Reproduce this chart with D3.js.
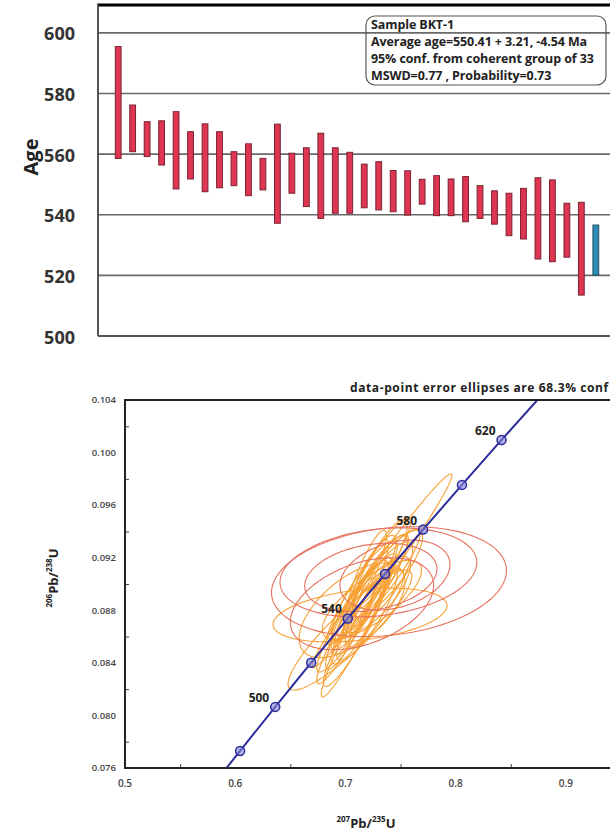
<!DOCTYPE html>
<html>
<head>
<meta charset="utf-8">
<script src="https://cdn.jsdelivr.net/npm/d3@7"></script>
<style>
  body { margin: 0; background: #fff; }
  svg { display: block; font-family: "Open Sans", sans-serif; }
</style>
</head>
<body>
<svg id="chart" width="610" height="832"></svg>
<script>
// weighted average plot: 2-sigma age bars (Ma)
const ageTop = [595.5, 576.2, 570.7, 571.0, 574.0, 567.4, 570.0, 567.4, 560.8, 563.4, 558.6,
    569.9, 560.3, 562.1, 566.9, 562.1, 560.6, 556.7, 557.5, 554.6, 554.5, 551.7,
    552.9, 551.8, 552.6, 549.6, 547.9, 547.1, 548.7, 552.2, 551.5, 543.8, 544.1, 536.6];
const ageBottom = [558.6, 560.8, 559.2, 556.4, 548.5, 551.8, 547.6, 548.9, 549.6, 546.3, 548.2,
    537.2, 547.1, 542.7, 538.8, 540.5, 540.5, 542.3, 541.6, 541.0, 539.9, 543.5,
    539.7, 539.7, 537.7, 538.8, 536.9, 533.1, 532.0, 525.4, 524.5, 526.0, 513.5, 520.1];
const rejected = [false, false, false, false, false, false, false, false, false, false, false,
    false, false, false, false, false, false, false, false, false, false, false,
    false, false, false, false, false, false, false, false, false, false, false, true];
const ageTicks = [500, 520, 540, 560, 580, 600];
const infoLines = ["Sample BKT-1", "Average age=550.41 + 3.21, -4.54 Ma",
    "95% conf. from coherent group of 33", "MSWD=0.77 , Probability=0.73"];

// concordia diagram
const concAges = [480, 500, 520, 540, 560, 580, 600, 620];
const concX = [0.6044, 0.6363, 0.6689, 0.7021, 0.7359, 0.7704, 0.8057, 0.8416];
const concY = [0.07730, 0.08065, 0.08401, 0.08738, 0.09076, 0.09414, 0.09754, 0.10096];
const curveX = [0.5921, 0.6044, 0.6363, 0.6689, 0.7021, 0.7359, 0.7704, 0.8057, 0.8416, 0.8741];
const curveY = [0.0760, 0.07730, 0.08065, 0.08401, 0.08738, 0.09076, 0.09414, 0.09754, 0.10096, 0.1040];
const labelAges = [500, 540, 580, 620];
const xTicks = [0.5, 0.6, 0.7, 0.8, 0.9];
const yTicks = [0.076, 0.080, 0.084, 0.088, 0.092, 0.096, 0.100, 0.104];

// error ellipses: 207/235, 206/238, half-extents, rho
const ellX  = [0.7331, 0.7132, 0.7041, 0.7150, 0.7200, 0.7250, 0.7180, 0.7300, 0.7100, 0.7220,
    0.7280, 0.7120, 0.7350, 0.7050, 0.7240, 0.7170, 0.7260, 0.7080, 0.7320, 0.7200,
    0.7140, 0.7290, 0.7000, 0.7380, 0.7210, 0.7060, 0.7250, 0.7110, 0.7190,
    0.7395, 0.7299, 0.7449, 0.7150, 0.7230];
const ellY  = [0.0910, 0.08764, 0.0865, 0.0885, 0.0890, 0.0898, 0.0880, 0.0905, 0.0878, 0.0893,
    0.0900, 0.0872, 0.0902, 0.0870, 0.0888, 0.0895, 0.0910, 0.0862, 0.0915, 0.0875,
    0.0890, 0.0892, 0.0862, 0.0908, 0.0902, 0.0880, 0.0882, 0.0866, 0.0908,
    0.09018, 0.09088, 0.09068, 0.0885, 0.0905];
const ellSx = [0.0635, 0.0789, 0.0562, 0.028, 0.022, 0.032, 0.018, 0.026, 0.036, 0.017,
    0.040, 0.020, 0.026, 0.023, 0.045, 0.030, 0.020, 0.028, 0.024, 0.033,
    0.025, 0.030, 0.026, 0.032, 0.038, 0.048, 0.022, 0.033, 0.018,
    0.1066, 0.0893, 0.0499, 0.0650, 0.0600];
const ellSy = [0.00738, 0.00205, 0.00457, 0.0035, 0.0030, 0.0040, 0.0028, 0.0032, 0.0045, 0.0025,
    0.0042, 0.0030, 0.0030, 0.0035, 0.0030, 0.0038, 0.0027, 0.0040, 0.0034, 0.0036,
    0.0044, 0.0029, 0.0038, 0.0033, 0.0048, 0.0036, 0.0031, 0.0052, 0.0033,
    0.00418, 0.00339, 0.00266, 0.0035, 0.0026];
const ellRho = [0.985, 0.35, 0.90, 0.88, 0.85, 0.90, 0.80, 0.86, 0.93, 0.78,
    0.92, 0.84, 0.80, 0.90, 0.75, 0.88, 0.82, 0.92, 0.86, 0.89,
    0.92, 0.78, 0.93, 0.84, 0.94, 0.60, 0.84, 0.96, 0.88,
    0.20, 0.22, 0.30, 0.40, 0.25];
const ellRed = [false, false, false, false, false, false, false, false, false, false,
    false, false, false, false, false, false, false, false, false, false,
    false, false, false, false, false, false, false, false, false,
    true, true, true, true, true];

const svg = d3.select("#chart");

// ---------- top panel ----------
const panelA = {left: 98, right: 610, top: 5, bottom: 336};

const yAge = d3.scaleLinear()
    .domain([500, 609.2])
    .range([panelA.bottom, panelA.top]);

const xBar = d3.scaleBand()
    .domain(d3.range(ageTop.length))
    .range([106.6, 607.4])
    .padding(0.6);

const gTop = svg.append("g");

gTop.append("g")
    .selectAll("line")
    .data(ageTicks.filter(d => d > 500))
    .join("line")
    .attr("x1", panelA.left)
    .attr("x2", panelA.right)
    .attr("y1", d => yAge(d))
    .attr("y2", d => yAge(d))
    .attr("stroke", "#6a6a6a")
    .attr("stroke-width", 1.6);

gTop.append("g")
    .selectAll("rect")
    .data(ageTop.map((t, i) => ({i, t, b: ageBottom[i], rej: rejected[i]})))
    .join("rect")
    .attr("x", d => xBar(d.i))
    .attr("width", xBar.bandwidth())
    .attr("y", d => yAge(d.t))
    .attr("height", d => yAge(d.b) - yAge(d.t))
    .attr("fill", d => d.rej ? "#2b8db5" : "#dd3552")
    .attr("stroke", d => d.rej ? "#1f4d63" : "#7a2232")
    .attr("stroke-width", 1);

// frame
gTop.append("line")
    .attr("x1", panelA.left).attr("x2", panelA.right)
    .attr("y1", panelA.top).attr("y2", panelA.top)
    .attr("stroke", "#000").attr("stroke-width", 3);
gTop.append("line")
    .attr("x1", panelA.left).attr("x2", panelA.left)
    .attr("y1", panelA.top - 1.5).attr("y2", panelA.bottom)
    .attr("stroke", "#444").attr("stroke-width", 1.8);
gTop.append("line")
    .attr("x1", panelA.left).attr("x2", panelA.right)
    .attr("y1", panelA.bottom).attr("y2", panelA.bottom)
    .attr("stroke", "#555").attr("stroke-width", 1.8);

gTop.append("g")
    .selectAll("text")
    .data(ageTicks)
    .join("text")
    .attr("x", 75)
    .attr("y", d => yAge(d))
    .attr("dy", "0.42em")
    .attr("text-anchor", "end")
    .attr("font-size", 18)
    .attr("font-weight", 700)
    .attr("fill", "#333")
    .text(d => d);

gTop.append("text")
    .attr("transform", "translate(38,157) rotate(-90)")
    .attr("text-anchor", "middle")
    .attr("font-size", 20)
    .attr("font-weight", 700)
    .attr("fill", "#222")
    .text("Age");

// info box
gTop.append("rect")
    .attr("x", 366).attr("y", 16)
    .attr("width", 240).attr("height", 69)
    .attr("rx", 9)
    .attr("fill", "none")
    .attr("stroke", "#555")
    .attr("stroke-width", 1.2);

gTop.append("g")
    .selectAll("text")
    .data(infoLines)
    .join("text")
    .attr("x", 371)
    .attr("y", (d, i) => 29 + i * 17)
    .attr("font-size", 12.5)
    .attr("font-weight", 700)
    .attr("letter-spacing", -0.1)
    .attr("fill", "#222")
    .text(d => d);

// ---------- bottom panel ----------
const panelB = {left: 125, right: 610, top: 400, bottom: 768};

const x = d3.scaleLinear()
    .domain([0.5, 0.94])
    .range([panelB.left, panelB.right]);

const y = d3.scaleLinear()
    .domain([0.076, 0.104])
    .range([panelB.bottom, panelB.top]);

svg.append("defs").append("clipPath")
    .attr("id", "plotClip")
    .append("rect")
    .attr("x", panelB.left).attr("y", panelB.top)
    .attr("width", panelB.right - panelB.left)
    .attr("height", panelB.bottom - panelB.top);

const gBot = svg.append("g");
const plot = gBot.append("g").attr("clip-path", "url(#plotClip)");

// ellipses
const ellipseLine = d3.line().curve(d3.curveLinearClosed);
const angles = d3.range(0, 2 * Math.PI, Math.PI / 60);
const ellipses = ellX.map((cx, i) => ({
    cx, cy: ellY[i], sx: ellSx[i], sy: ellSy[i], rho: ellRho[i], red: ellRed[i]
}));

plot.append("g")
    .selectAll("path")
    .data(ellipses)
    .join("path")
    .attr("d", e => ellipseLine(angles.map(t => [
        x(e.cx + e.sx * Math.cos(t)),
        y(e.cy + e.sy * (e.rho * Math.cos(t) + Math.sqrt(1 - e.rho * e.rho) * Math.sin(t)))
    ])))
    .attr("fill", "none")
    .attr("stroke", e => e.red ? "#e6705f" : "#f7a033")
    .attr("stroke-width", 1.1);

// concordia
plot.append("path")
    .datum(curveX.map((v, i) => [v, curveY[i]]))
    .attr("d", d3.line().x(d => x(d[0])).y(d => y(d[1])).curve(d3.curveMonotoneX))
    .attr("fill", "none")
    .attr("stroke", "#2c2c9c")
    .attr("stroke-width", 2);

plot.append("g")
    .selectAll("circle")
    .data(concAges.map((a, i) => ({a, cx: concX[i], cy: concY[i]})))
    .join("circle")
    .attr("cx", d => x(d.cx))
    .attr("cy", d => y(d.cy))
    .attr("r", 4.5)
    .attr("fill", "#8080d8")
    .attr("fill-opacity", 0.6)
    .attr("stroke", "#2c2c9c")
    .attr("stroke-width", 1.5);

gBot.append("g")
    .selectAll("text")
    .data(concAges.map((a, i) => ({a, cx: concX[i], cy: concY[i]})).filter(d => labelAges.includes(d.a)))
    .join("text")
    .attr("x", d => x(d.cx) - 6)
    .attr("y", d => y(d.cy) - 5)
    .attr("text-anchor", "end")
    .attr("font-size", 12)
    .attr("font-weight", 700)
    .attr("fill", "#222")
    .text(d => d.a);

// axes
gBot.append("g")
    .attr("transform", `translate(0,${panelB.bottom})`)
    .call(d3.axisTop(x).tickValues(d3.range(0.55, 0.94, 0.1)).tickSize(4).tickFormat(""))
    .call(g => g.select(".domain").remove())
    .call(g => g.selectAll("line").attr("stroke", "#444"));

gBot.append("g")
    .attr("transform", `translate(${panelB.left},0)`)
    .call(d3.axisRight(y).tickValues(d3.range(0.078, 0.1041, 0.004)).tickSize(4).tickFormat(""))
    .call(g => g.select(".domain").remove())
    .call(g => g.selectAll("line").attr("stroke", "#444"));

gBot.append("line")
    .attr("x1", panelB.left).attr("x2", panelB.right)
    .attr("y1", panelB.top).attr("y2", panelB.top)
    .attr("stroke", "#222").attr("stroke-width", 2.2);
gBot.append("line")
    .attr("x1", panelB.left).attr("x2", panelB.left)
    .attr("y1", panelB.top - 1).attr("y2", panelB.bottom + 1)
    .attr("stroke", "#222").attr("stroke-width", 2);
gBot.append("line")
    .attr("x1", panelB.left).attr("x2", panelB.right)
    .attr("y1", panelB.bottom).attr("y2", panelB.bottom)
    .attr("stroke", "#222").attr("stroke-width", 2);

gBot.append("g")
    .selectAll("text")
    .data(xTicks)
    .join("text")
    .attr("x", d => x(d))
    .attr("y", 787)
    .attr("text-anchor", "middle")
    .attr("font-size", 10)
    .attr("font-weight", 600)
    .attr("fill", "#444")
    .text(d => d3.format(".1f")(d));

gBot.append("g")
    .selectAll("text")
    .data(yTicks)
    .join("text")
    .attr("x", 116)
    .attr("y", d => y(d))
    .attr("dy", "0.35em")
    .attr("text-anchor", "end")
    .attr("font-size", 9.5)
    .attr("font-weight", 600)
    .attr("fill", "#444")
    .text(d => d3.format(".3f")(d));

gBot.append("text")
    .attr("x", 350)
    .attr("y", 392)
    .attr("font-size", 12)
    .attr("font-weight", 700)
    .attr("letter-spacing", 0.6)
    .attr("fill", "#222")
    .text("data-point error ellipses are 68.3% conf");

const xLab = gBot.append("text")
    .attr("x", 366)
    .attr("y", 828)
    .attr("text-anchor", "middle")
    .attr("font-size", 13)
    .attr("font-weight", 700)
    .attr("fill", "#222");
xLab.append("tspan").attr("font-size", 8).attr("dy", -6).text("207");
xLab.append("tspan").attr("dy", 6).text("Pb/");
xLab.append("tspan").attr("font-size", 8).attr("dy", -6).text("235");
xLab.append("tspan").attr("dy", 6).text("U");

const yLab = gBot.append("text")
    .attr("transform", "translate(58,578) rotate(-90)")
    .attr("text-anchor", "middle")
    .attr("font-size", 13)
    .attr("font-weight", 700)
    .attr("fill", "#222");
yLab.append("tspan").attr("font-size", 8).attr("dy", -6).text("206");
yLab.append("tspan").attr("dy", 6).text("Pb/");
yLab.append("tspan").attr("font-size", 8).attr("dy", -6).text("238");
yLab.append("tspan").attr("dy", 6).text("U");
</script>
</body>
</html>
